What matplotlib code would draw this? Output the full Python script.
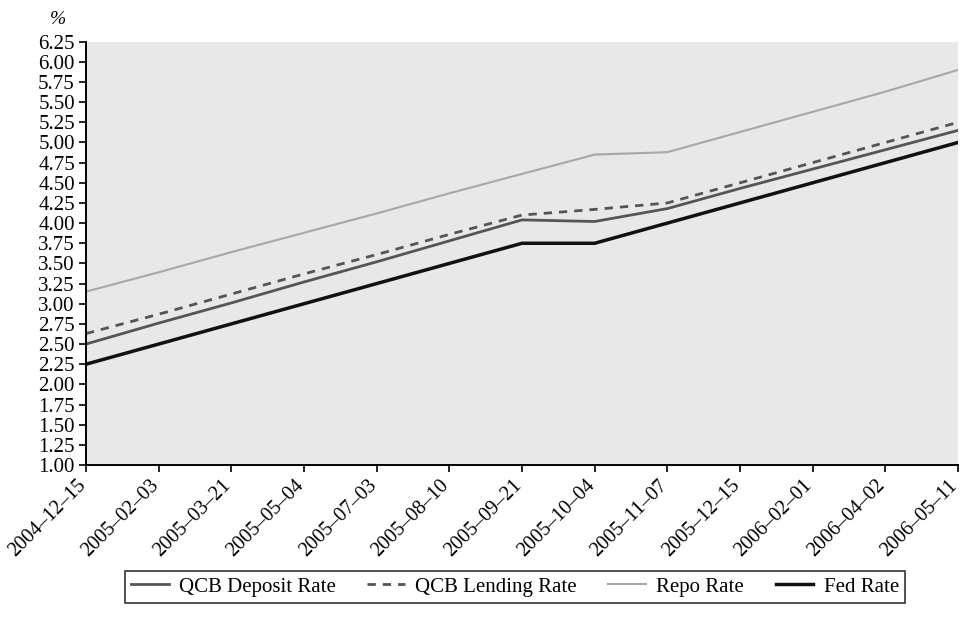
import numpy as np
import matplotlib
matplotlib.use("Agg")
import matplotlib.pyplot as plt
from matplotlib.transforms import ScaledTranslation

dates = ["2004-12-15", "2005-02-03", "2005-03-21", "2005-05-04", "2005-07-03",
         "2005-08-10", "2005-09-21", "2005-10-04", "2005-11-07", "2005-12-15",
         "2006-02-01", "2006-04-02", "2006-05-11"]

qcb_deposit = [2.50, 2.76, 3.01, 3.27, 3.52, 3.78, 4.04, 4.02, 4.18, 4.43, 4.67, 4.91, 5.15]
qcb_lending = [2.63, 2.87, 3.12, 3.37, 3.61, 3.86, 4.10, 4.17, 4.25, 4.50, 4.75, 5.00, 5.25]
repo_rate = [3.15, 3.39, 3.64, 3.88, 4.12, 4.37, 4.61, 4.85, 4.88, 5.13, 5.38, 5.63, 5.90]
fed_rate = [2.25, 2.50, 2.75, 3.00, 3.25, 3.50, 3.75, 3.75, 4.00, 4.25, 4.50, 4.75, 5.00]

plt.rcParams['font.family'] = ['Liberation Serif', 'DejaVu Serif']

fig = plt.figure(figsize=(9.69, 6.2), dpi=100)
ax = fig.add_axes([86 / 969, 1 - 465 / 620, (958 - 86) / 969, (465 - 41.7) / 620])
ax.set_facecolor('#e8e8e8')

x = np.arange(len(dates))
ax.plot(x, qcb_deposit, color='#555555', lw=2.0, label='QCB Deposit Rate')
ax.plot(x, qcb_lending, color='#555555', lw=2.0, ls=(0, (3, 2.5)), label='QCB Lending Rate')
ax.plot(x, repo_rate, color='#a8a8a8', lw=1.5, label='Repo Rate')
ax.plot(x, fed_rate, color='#111111', lw=2.5, label='Fed Rate')

ax.set_xlim(0, len(dates) - 1)
ax.set_ylim(1.0, 6.25)
ax.set_yticks(np.arange(1.0, 6.26, 0.25))
ax.set_yticklabels([f"{v:.2f}" for v in np.arange(1.0, 6.26, 0.25)], fontsize=15)
ax.set_xticks(x)
ax.set_xticklabels([d.replace('-', '–') for d in dates], rotation=45, ha='right',
                   rotation_mode='anchor', fontsize=14.5)
ax.tick_params(axis='both', direction='out', length=5, width=1.2, color='black', pad=3)
# nudge date labels a little to the left, like the original
shift = ScaledTranslation(-7 / 72, 0, fig.dpi_scale_trans)
for lbl in ax.get_xticklabels():
    lbl.set_transform(lbl.get_transform() + shift)

for side in ['top', 'right']:
    ax.spines[side].set_visible(False)
for side in ['left', 'bottom']:
    ax.spines[side].set_linewidth(1.4)
    ax.spines[side].set_color('black')

fig.text(58 / 969, 1 - 20 / 620, '%', fontsize=14, style='italic', ha='center', va='center')

leg = fig.legend(loc='lower left', bbox_to_anchor=(125 / 969, 1 - 603 / 620, 780 / 969, 36 / 620),
                 mode='expand', ncol=4, fontsize=15, frameon=True, fancybox=False,
                 edgecolor='black', handlelength=1.8, handletextpad=0.5,
                 borderaxespad=0, borderpad=0.3)
leg.get_frame().set_linewidth(1.2)

fig.savefig('out.png', dpi=100)
